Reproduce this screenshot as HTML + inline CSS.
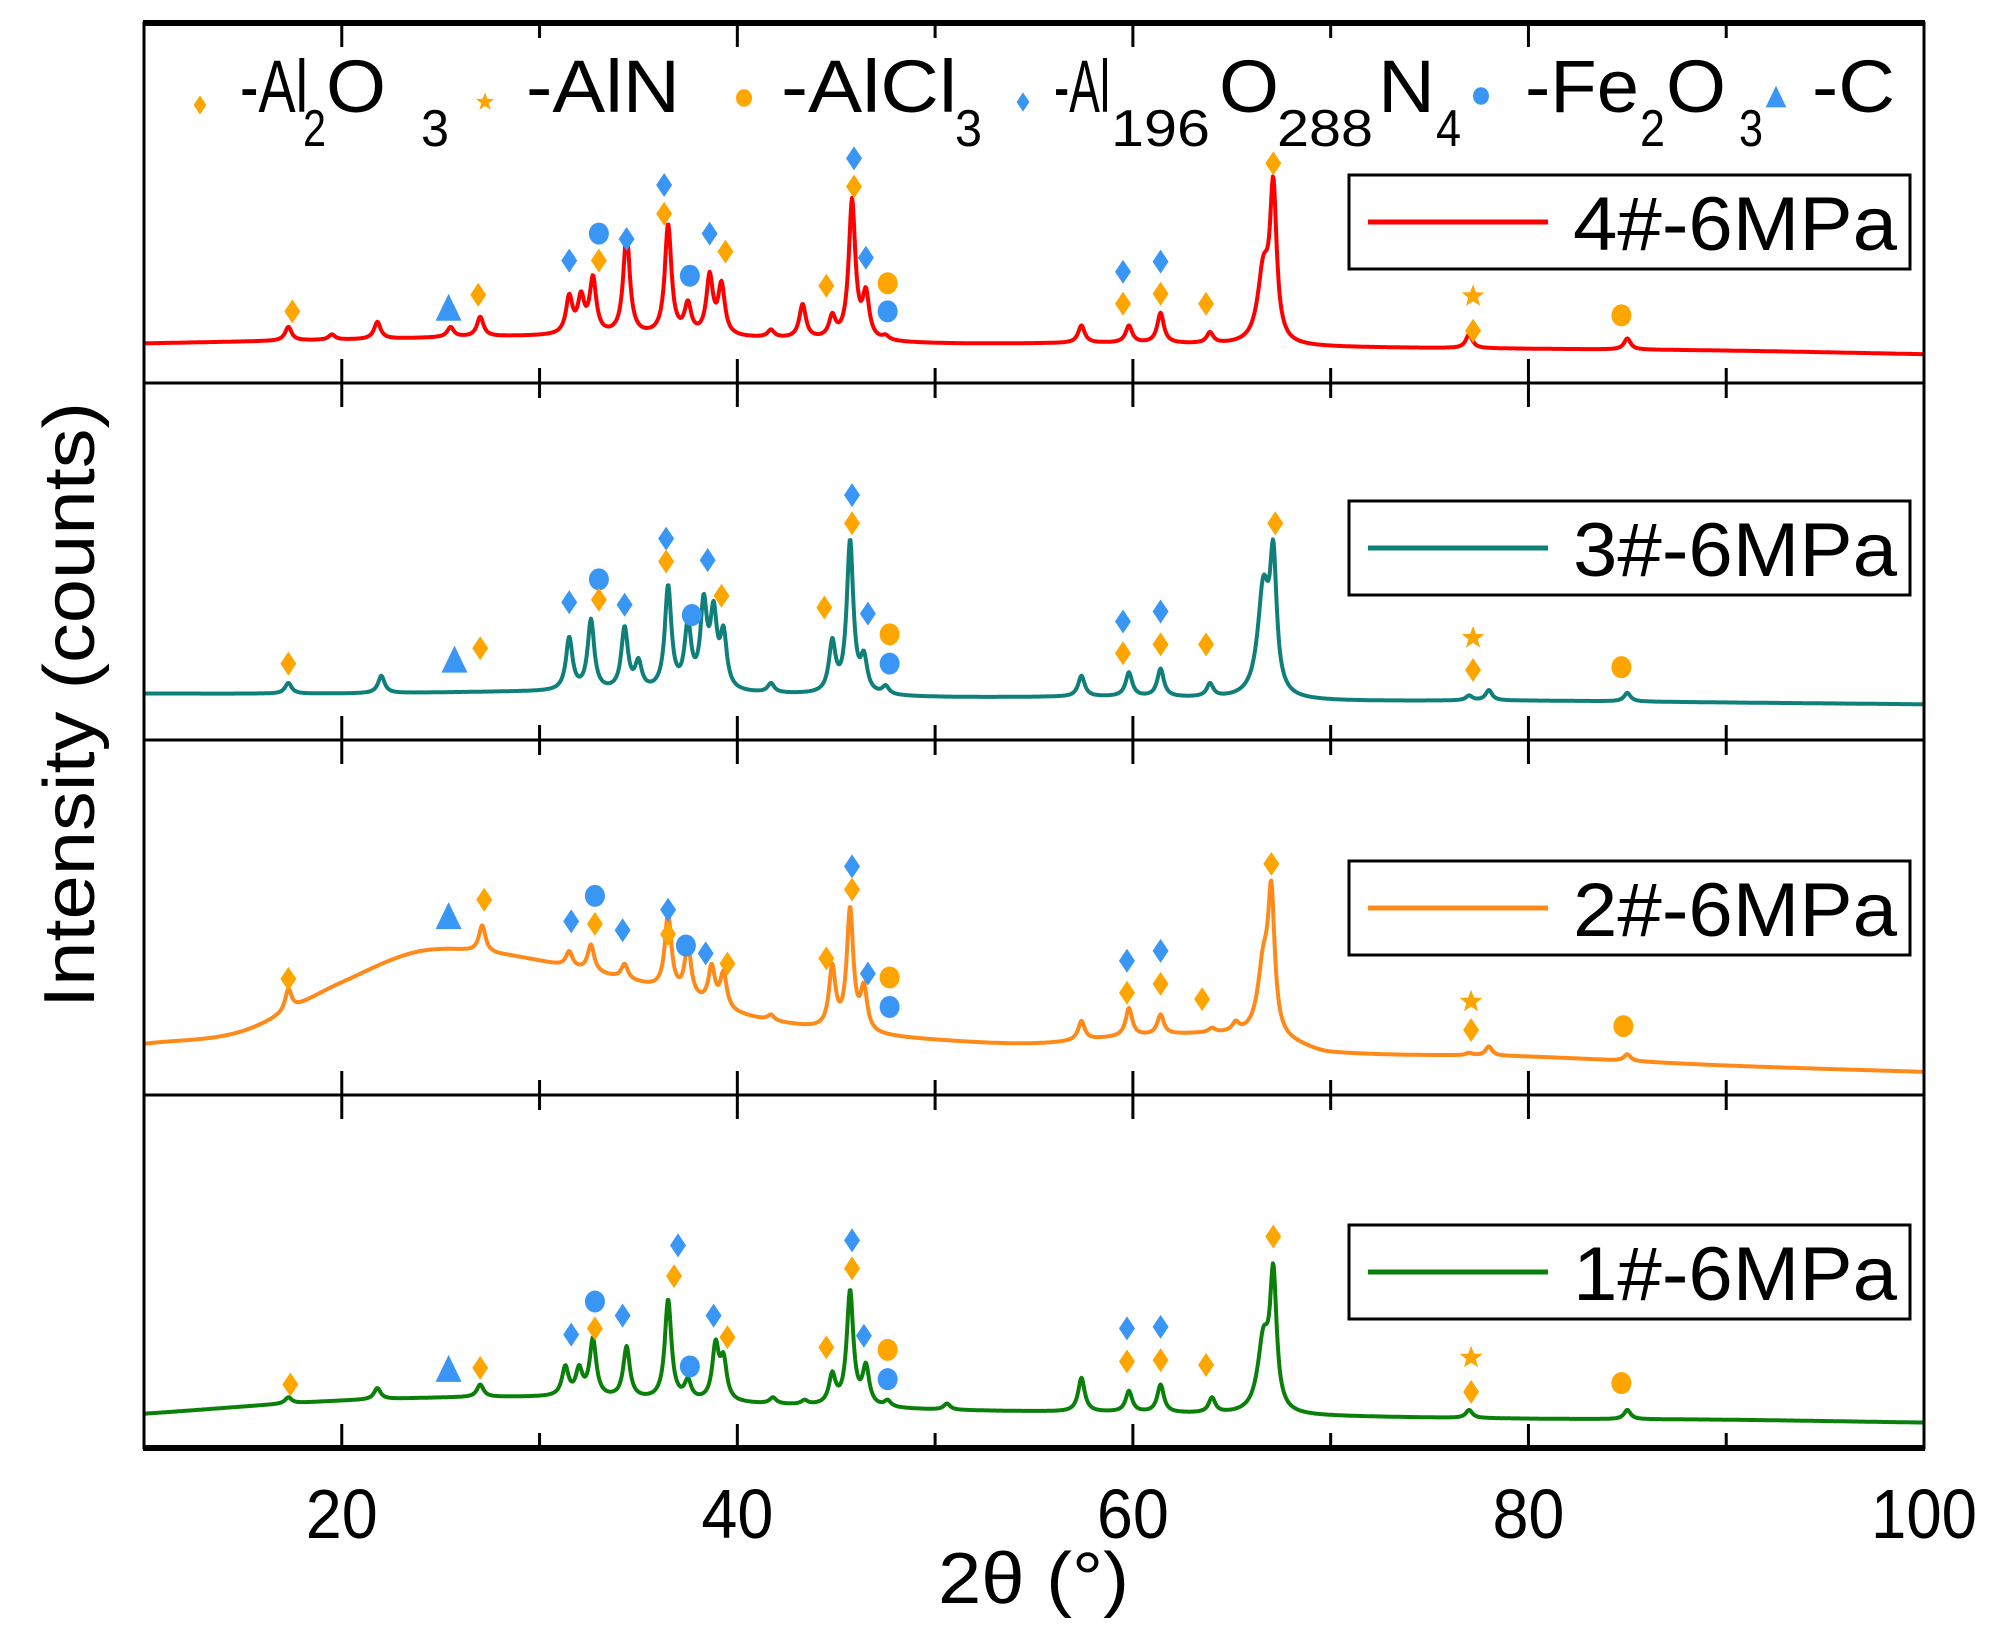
<!DOCTYPE html>
<html><head><meta charset="utf-8"><style>
html,body{margin:0;padding:0;background:#fff;}
svg{display:block;font-family:"Liberation Sans",Arial,sans-serif;}
</style></head><body>
<svg id="chart" width="1991" height="1631" viewBox="0 0 1991 1631" xmlns="http://www.w3.org/2000/svg">
<g id="plot"></g>
<g id="legend-top" font-size="74" fill="#000">
  <text x="240" y="112" textLength="68" lengthAdjust="spacingAndGlyphs">-Al</text>
  <text x="303" y="146" font-size="52" textLength="23" lengthAdjust="spacingAndGlyphs">2</text>
  <text x="326" y="112" textLength="60" lengthAdjust="spacingAndGlyphs">O</text>
  <text x="421" y="146" font-size="52" textLength="28" lengthAdjust="spacingAndGlyphs">3</text>
  <text x="526" y="112" textLength="154" lengthAdjust="spacingAndGlyphs">-AlN</text>
  <text x="781" y="112" textLength="176" lengthAdjust="spacingAndGlyphs">-AlCl</text>
  <text x="955" y="146" font-size="52" textLength="27" lengthAdjust="spacingAndGlyphs">3</text>
  <text x="1054" y="112" textLength="56" lengthAdjust="spacingAndGlyphs">-Al</text>
  <text x="1111" y="146" font-size="52" textLength="99" lengthAdjust="spacingAndGlyphs">196</text>
  <text x="1219" y="112" textLength="60" lengthAdjust="spacingAndGlyphs">O</text>
  <text x="1277" y="146" font-size="52" textLength="96" lengthAdjust="spacingAndGlyphs">288</text>
  <text x="1378" y="112" textLength="57" lengthAdjust="spacingAndGlyphs">N</text>
  <text x="1436" y="146" font-size="52" textLength="25" lengthAdjust="spacingAndGlyphs">4</text>
  <text x="1525" y="112" textLength="114" lengthAdjust="spacingAndGlyphs">-Fe</text>
  <text x="1640" y="146" font-size="52" textLength="25" lengthAdjust="spacingAndGlyphs">2</text>
  <text x="1666" y="112" textLength="60" lengthAdjust="spacingAndGlyphs">O</text>
  <text x="1739" y="146" font-size="52" textLength="24" lengthAdjust="spacingAndGlyphs">3</text>
  <text x="1812" y="112" textLength="83" lengthAdjust="spacingAndGlyphs">-C</text>
</g>
<text x="938" y="1603" font-size="72" textLength="191" lengthAdjust="spacingAndGlyphs">2θ (°)</text>
<text transform="translate(94,1008) rotate(-90)" font-size="72" textLength="606" lengthAdjust="spacingAndGlyphs">Intensity (counts)</text>
</svg>
<script>
// ---- data ----
const seriesNames = ["4#-6MPa","3#-6MPa","2#-6MPa","1#-6MPa"];
const seriesColors = ["#ff0000","#0f7f7a","#ff8a1a","#0a800a"];
const xTicks = [20,40,60,80,100];
const xMinorTicks = [30,50,70,90];

const base4X = [10,20,30,40,50,60,70,80,90,100];
const base4Y = [11,12,13,12.5,11,11,10,9.5,9,8];
const peak4Pos = [17.3,19.5,21.8,25.5,27,31.5,32.1,32.7,34.4,36.5,37.5,38.6,39.2,41.7,43.3,44.8,45.8,46.5,47.5,57.4,59.8,61.4,63.9,66.6,67.1,77,85];
const peak4Top = [15.6,13.5,17,15.6,18.4,24.8,25.5,30,41.5,44.3,23,30.9,28.4,14.9,22,19.5,51.4,26.6,13.5,16,16,19.5,14.2,35.5,57.4,13.5,12.4];

const base3X = [10,20,30,40,50,60,70,80,90,100];
const base3Y = [13,13,13.5,13,12,12,11,11,10.5,10];
const peak3Pos = [17.3,22,31.5,32.6,34.3,35,36.5,37.5,38.3,38.8,39.3,41.7,44.8,45.7,46.4,47.5,57.4,59.8,61.4,63.9,66.6,67.1,77,78,85];
const peak3Top = [16,18,29,34,32,23,43.6,34,41,39,32,16,28.6,56.4,25,15.4,18,19,20,16,46,56,12.5,14,13.2];

const base2X = [10,15,20,24,28,32,36,40,45,50,55,60,65,68,70,80,90,100];
const base2Y = [14.4,18,31.7,40.5,39.6,35.3,29.9,22.7,18,15.5,14.5,16.5,17,14.4,11.9,10.8,8.3,6.5];
const peak2Pos = [17.3,27.1,31.5,32.6,34.3,36.5,37.5,38.7,39.3,41.7,44.8,45.7,46.4,57.4,59.8,61.4,64,65.2,66.6,67,77,78,85];
const peak2Top = [29.9,47.8,40.6,42.4,37,51.4,42.4,37,35,22.7,37,53.2,31.7,20.9,24.5,22.7,19,21,42.4,60.4,11.9,13.7,11.5];

const base1X = [10,20,30,40,50,60,70,80,90,100];
const base1Y = [9.7,13.4,14.4,12.6,10.8,10,9,8.3,8,7.2];
const peak1Pos = [17.3,21.8,27,31.3,32,32.7,34.4,36.5,37.5,38.9,39.3,41.8,43.4,44.8,45.7,46.5,47.6,50.6,57.4,59.8,61.4,64,66.6,67.1,77,85];
const peak1Top = [14.4,17,18,23.5,23.5,31.4,28.9,42.2,19.9,30.7,27,14.4,13.7,21.7,45,24.2,13.7,12.6,19.9,16.2,18,14.4,34.3,52.3,10.8,10.8];

// markers: od=orange diamond, bd=blue diamond, oc=orange circle, bc=blue circle, os=orange star, bt=blue triangle
const mark4Type = ["od","bt","od","bd","bc","od","bd","bd","od","bc","bd","od","od","bd","od","bd","oc","bc","bd","bd","od","od","od","od","os","od","oc"];
const mark4X = [17.5,25.4,26.9,31.5,33,33,34.4,36.3,36.3,37.6,38.6,39.4,44.5,45.9,45.9,46.5,47.6,47.6,59.5,61.4,59.5,61.4,63.7,67.1,77.2,77.2,84.7];
const mark4Y = [19.9,20.9,24.5,34,41.5,34,40,55,47,29.8,41.5,36.5,27,62.4,54.6,34.8,27.7,19.9,30.9,33.7,22,24.8,22,61,24.1,14.5,18.8];

const mark3Type = mark4Type;
const mark3X = [17.3,25.7,27,31.5,33,33,34.3,36.4,36.4,37.7,38.5,39.2,44.4,45.8,45.8,46.6,47.7,47.7,59.5,61.4,59.5,61.4,63.7,67.2,77.2,77.2,84.7];
const mark3Y = [21.4,22.5,25.7,38.6,45,39.3,37.9,56.4,50,35,50.4,40.4,37.1,68.6,60.7,35.4,29.6,21.4,33.2,36,24.3,26.8,26.8,60.7,28.6,19.6,20.4];

const mark2Type = mark4Type;
const mark2X = [17.3,25.4,27.2,31.6,32.8,32.8,34.2,36.5,36.5,37.4,38.4,39.5,44.5,45.8,45.8,46.6,47.7,47.7,59.7,61.4,59.7,61.4,63.5,67,77.1,77.1,84.8];
const mark2Y = [32.7,50.4,55,48.9,56.1,48.2,46.4,52.2,45.3,42.1,39.9,37,38.5,64.4,57.9,34.2,33.1,24.8,37.8,40.6,28.8,31.3,27,65.1,26.3,18.3,19.4];

const mark1Type = mark4Type;
const mark1X = [17.4,25.4,27,31.6,32.8,32.8,34.2,37,36.8,37.6,38.8,39.5,44.5,45.8,45.8,46.4,47.6,47.6,59.7,61.4,59.7,61.4,63.7,67.1,77.1,77.1,84.7];
const mark1Y = [18,22.4,22.7,32.1,41.5,33.9,37.5,57.4,48.7,23.1,37.5,31.4,28.5,58.8,50.9,31.8,27.8,19.5,33.9,34.3,24.5,24.9,23.5,59.9,25.6,15.9,18.4];

// ---- layout ----
const NS="http://www.w3.org/2000/svg";
const L=144,R=1924;
const panelTop=[23,383,740,1095], panelBot=[383,740,1095,1448];
const legendY=[222,548,908,1272];
const OR="#ffa500", BL="#3a96f5";
const xs=v=>L+(v-10)/90*(R-L);
function mk(tag,attrs,parent){const e=document.createElementNS(NS,tag);for(const k in attrs)e.setAttribute(k,attrs[k]);(parent||plot).appendChild(e);return e;}
const plot=document.getElementById('plot');

function interp(xa,ya,x){
  const n=xa.length;
  for(let i=0;i<n-1;i++){
    if(x<=xa[i+1]){
      const t=(x-xa[i])/(xa[i+1]-xa[i]);
      const p0=ya[Math.max(0,i-1)],p1=ya[i],p2=ya[i+1],p3=ya[Math.min(n-1,i+2)];
      const h=xa[i+1]-xa[i];
      const m1=(i>0?(p2-p0)/(xa[i+1]-xa[i-1]):(p2-p1)/h)*h;
      const m2=(i<n-2?(p3-p1)/(xa[i+2]-xa[i]):(p2-p1)/h)*h;
      const t2=t*t,t3=t2*t;
      return (2*t3-3*t2+1)*p1+(t3-2*t2+t)*m1+(-2*t3+3*t2)*p2+(t3-t2)*m2;
    }
  }
  return ya[n-1];
}

function marker(type,cx,cy,parent,scale){
  const s=scale||1;const col=type[0]==='o'?OR:BL;const k=type[1];let e;
  if(k==='d'){e=mk('polygon',{points:`${cx},${cy-12*s} ${cx+8*s},${cy} ${cx},${cy+12*s} ${cx-8*s},${cy}`,fill:col},parent);}
  else if(k==='c'){e=mk('ellipse',{cx:cx,cy:cy,rx:10*s,ry:11*s,fill:col},parent);}
  else if(k==='t'){e=mk('polygon',{points:`${cx},${cy-14*s} ${cx+13*s},${cy+13*s} ${cx-13*s},${cy+13*s}`,fill:col},parent);}
  else {let p=[];for(let i=0;i<10;i++){const r=i%2?5*s:12*s;const a=-Math.PI/2+i*Math.PI/5;p.push((cx+r*Math.cos(a)).toFixed(1)+','+(cy+r*Math.sin(a)).toFixed(1));}e=mk('polygon',{points:p.join(' '),fill:col},parent);}
  return e;
}

const bases=[[base4X,base4Y],[base3X,base3Y],[base2X,base2Y],[base1X,base1Y]];
const peaks=[[peak4Pos,peak4Top],[peak3Pos,peak3Top],[peak2Pos,peak2Top],[peak1Pos,peak1Top]];
const marks=[[mark4Type,mark4X,mark4Y],[mark3Type,mark3X,mark3Y],[mark2Type,mark2X,mark2Y],[mark1Type,mark1X,mark1Y]];
const wid=c=>(c>66&&c<66.8)?0.35:0.2;
const lor=(x,c)=>{const w=wid(c),dx=x-c;return w*w/(dx*dx+w*w);};

for(let p=0;p<4;p++){
  const top=panelTop[p],bot=panelBot[p],h=bot-top;
  const ys=v=>bot-v/100*h;
  const [bx,by]=bases[p];const [pp,pt]=peaks[p];
  const target=pp.map((c,i)=>Math.max(0,pt[i]-interp(bx,by,c)));
  let amps=target.slice();
  for(let it=0;it<30;it++){
    amps=amps.map((a,i)=>{let s=0;for(let j=0;j<pp.length;j++){if(j!==i)s+=amps[j]*lor(pp[i],pp[j]);}return Math.max(0,0.5*a+0.5*(target[i]-s));});
  }
  let d='';
  for(let x=10;x<=100.0001;x+=0.04){
    let v=interp(bx,by,x);
    for(let i=0;i<pp.length;i++){v+=amps[i]*lor(x,pp[i]);}
    d+=(d?'L':'M')+xs(x).toFixed(1)+','+ys(v).toFixed(1);
  }
  const line=mk('path',{d:d,fill:'none',stroke:seriesColors[p],'stroke-width':4,'stroke-linejoin':'round'});
  
  
  const [mt,mx,my]=marks[p];
  for(let i=0;i<mt.length;i++){
    const m=marker(mt[i],xs(mx[i]),ys(my[i]));
    
    
  }
  const lb=mk('g',{});
  
  
  const ly=legendY[p];
  mk('rect',{x:1349,y:ly-47,width:561,height:94,fill:'#fff',stroke:'#000','stroke-width':3},lb);
  mk('line',{x1:1368,x2:1548,y1:ly,y2:ly,stroke:seriesColors[p],'stroke-width':5},lb);
  const t=mk('text',{x:1573,y:ly+28,'font-size':76,textLength:324,lengthAdjust:'spacingAndGlyphs'},lb);
  t.textContent=seriesNames[p];
  for(const tv of xTicks.concat(xMinorTicks)){
    const len=xTicks.includes(tv)?24:15;
    mk('line',{x1:xs(tv),x2:xs(tv),y1:bot,y2:bot-len,stroke:'#000','stroke-width':3});
    mk('line',{x1:xs(tv),x2:xs(tv),y1:top,y2:top+len,stroke:'#000','stroke-width':3});
  }
  const fr=mk('rect',{x:L,y:top,width:R-L,height:h,fill:'none',stroke:'#000','stroke-width':3});
  
  
}
mk('line',{x1:L-1,x2:R+1,y1:1448,y2:1448,stroke:'#000','stroke-width':6});
mk('line',{x1:L-1,x2:R+1,y1:23,y2:23,stroke:'#000','stroke-width':6});
for(const tv of xTicks){
  const t=mk('text',{x:xs(tv),y:1538,'font-size':70,'text-anchor':'middle',textLength:tv===100?106:72,lengthAdjust:'spacingAndGlyphs'});
  t.textContent=tv;
  
  
}
const lg=document.getElementById('legend-top');
const lgTypes=["od","os","oc","bd","bc","bt"];
const lgX=[200,485,744,1023,1481,1776];
const lgY=[105,102,98,102,96,97];
for(let i=0;i<lgTypes.length;i++){
  const m=marker(lgTypes[i],lgX[i],lgY[i],lg,0.8);
  
  
}
</script>
</body></html>
